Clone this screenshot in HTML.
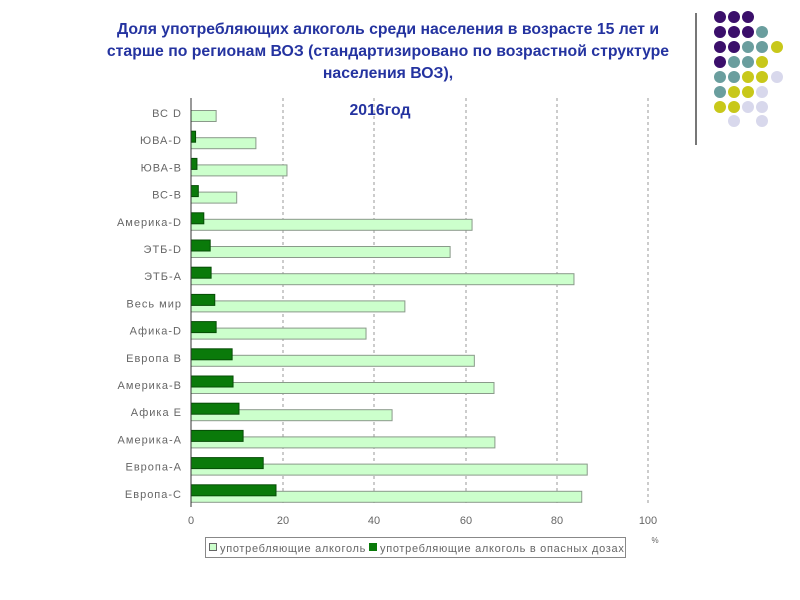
<!DOCTYPE html>
<html><head><meta charset="utf-8"><style>
body{margin:0;background:#fff;width:800px;height:600px;overflow:hidden}
svg{display:block}
</style></head><body>
<svg width="800" height="600" xmlns="http://www.w3.org/2000/svg" font-family="Liberation Sans, DejaVu Sans, sans-serif">
<g font-weight="bold" font-size="15.8" fill="#2433a0" text-anchor="middle">
<text x="388" y="34">Доля употребляющих алкоголь среди населения в возрасте 15 лет и</text>
<text x="388" y="56">старше по регионам ВОЗ (стандартизировано по возрастной структуре</text>
<text x="388" y="78">населения ВОЗ),</text>
<text x="380" y="115">2016год</text>
</g>
<line x1="696" y1="13" x2="696" y2="145" stroke="#777" stroke-width="2"/>
<g id="dots"></g>
<g stroke="#999" stroke-dasharray="3,3" stroke-width="1">
<line x1="283" y1="98" x2="283" y2="506"/><line x1="374" y1="98" x2="374" y2="506"/>
<line x1="466" y1="98" x2="466" y2="506"/><line x1="557" y1="98" x2="557" y2="506"/>
<line x1="648" y1="98" x2="648" y2="506"/>
</g>
<g id="bars"></g>
<line x1="191" y1="98" x2="191" y2="507" stroke="#333" stroke-width="1"/>
<g font-size="11" fill="#666" text-anchor="middle">
<text x="191" y="524">0</text><text x="283" y="524">20</text><text x="374" y="524">40</text>
<text x="466" y="524">60</text><text x="557" y="524">80</text><text x="648" y="524">100</text>
<text x="655" y="543" font-size="8">%</text>
</g>
<rect x="205.5" y="537.5" width="420" height="20" fill="#fff" stroke="#888"/>
<rect x="209.5" y="543.5" width="7" height="7" fill="#ccffcc" stroke="#666"/>
<rect x="369" y="543" width="8" height="8" fill="#0a7a0a"/>
<g font-size="11" fill="#666" letter-spacing="0.7"><text x="220" y="552">употребляющие алкоголь</text><text x="380" y="552">употребляющие алкоголь в опасных дозах</text></g>
</svg>
<script>
var ns="http://www.w3.org/2000/svg";
var labels=["ВС D","ЮВА-D","ЮВА-В","ВС-В","Америка-D","ЭТБ-D","ЭТБ-А","Весь мир","Афика-D","Европа В","Америка-В","Афика Е","Америка-А","Европа-А","Европа-С"];
var L=[5.5,14.2,21,10,61.5,56.7,83.8,46.8,38.3,62,66.3,44,66.5,86.7,85.5];
var D=[0,1,1.3,1.6,2.8,4.2,4.4,5.2,5.5,9,9.2,10.5,11.4,15.8,18.6];
var g=document.getElementById("bars");
function el(t,a,p){var e=document.createElementNS(ns,t);for(var k in a)e.setAttribute(k,a[k]);(p||g).appendChild(e);return e;}
for(var i=0;i<15;i++){var t=104+i*27.2;
el("rect",{x:191,y:t+6.5,width:L[i]*4.57,height:11,fill:"#ccffcc",stroke:"#8a9a8a"});
if(D[i]>0)el("rect",{x:191,y:t,width:D[i]*4.57,height:11,fill:"#0a7a0a",stroke:"#064d06"});
var tx=el("text",{x:182,y:t+13,"text-anchor":"end","font-size":"11","letter-spacing":"1",fill:"#666"});tx.textContent=labels[i];}
var P="#3b0f6b",T="#6a9e9e",Y="#c8c81a",Lc="#d8d8ec";
var rows=[[P,P,P],[P,P,P,T],[P,P,T,T,Y],[P,T,T,Y],[T,T,Y,Y,Lc],[T,Y,Y,Lc],[Y,Y,Lc,Lc],[null,Lc,null,Lc]];
var xs=[720,734,748,762,777],ys=[17,32,47,62,77,92,107,121],dg=document.getElementById("dots");
rows.forEach(function(r,j){r.forEach(function(c,k){if(c)el("circle",{cx:xs[k],cy:ys[j],r:6,fill:c},dg);});});
</script>
</body></html>
